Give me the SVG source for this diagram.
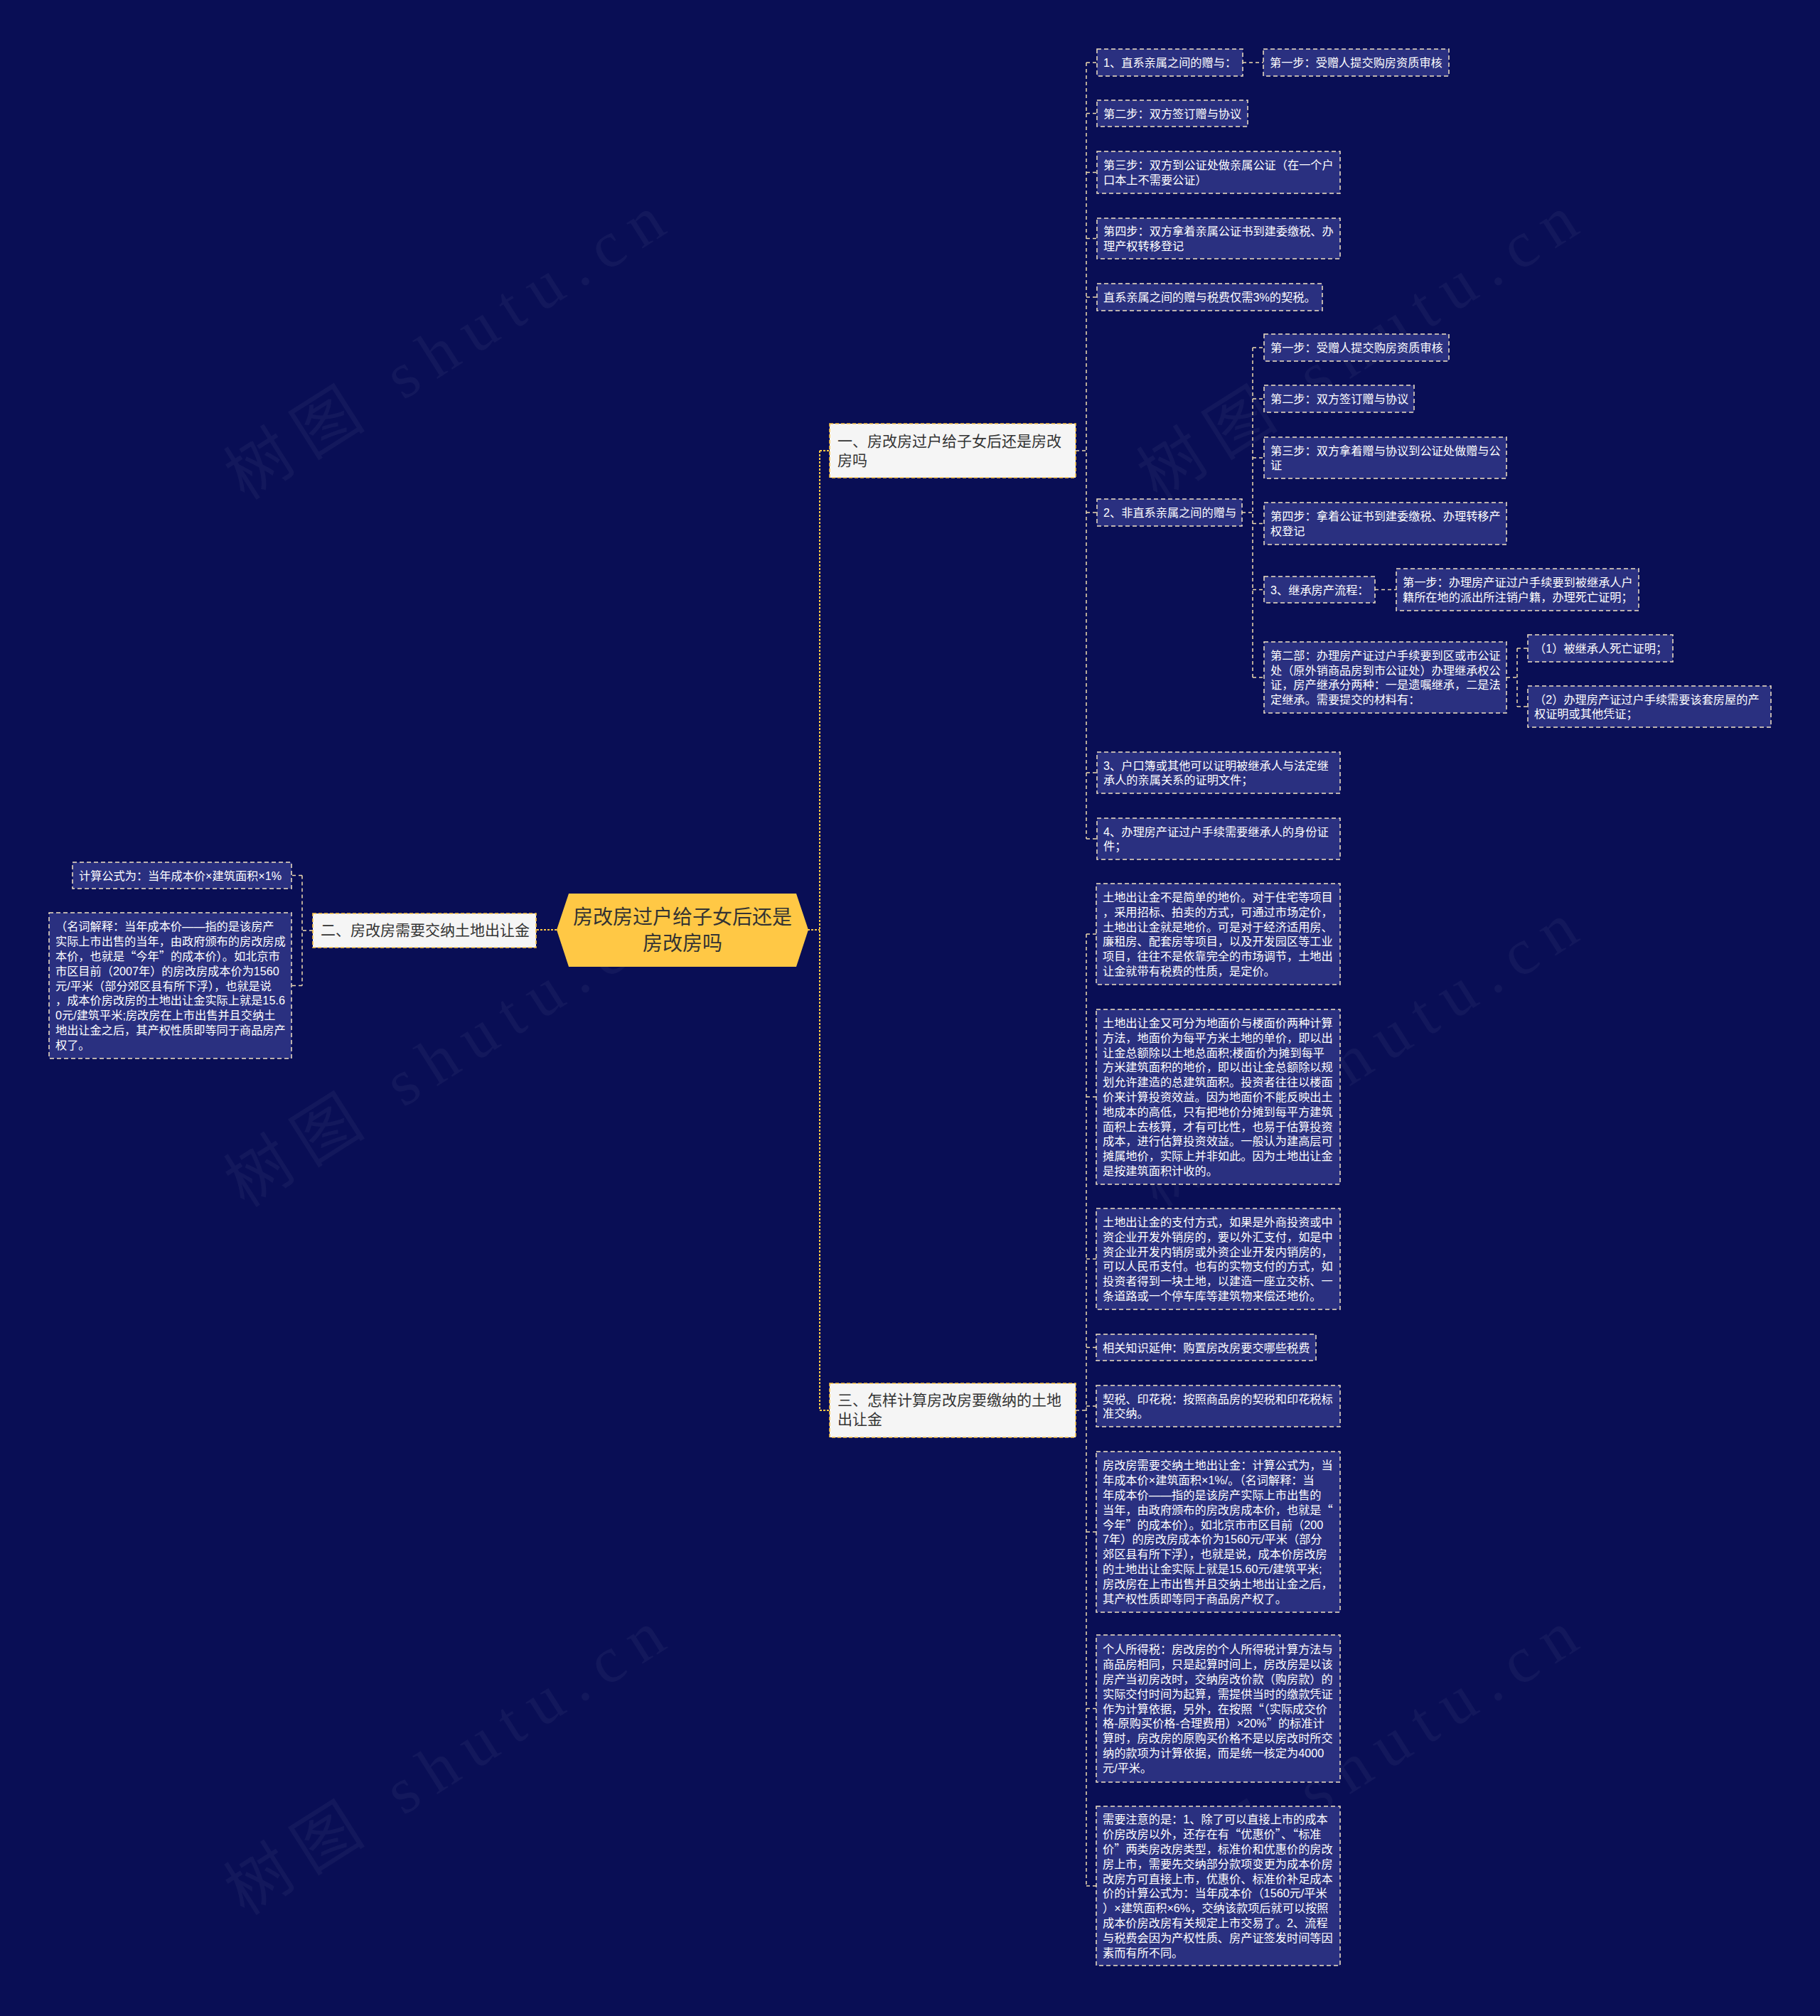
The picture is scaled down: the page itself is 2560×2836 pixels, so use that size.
<svg xmlns="http://www.w3.org/2000/svg" width="2560" height="2836" viewBox="0 0 2560 2836">
<style>
.bg{fill:#090e55}
.wm{font-family:"Liberation Serif","Noto Sans CJK SC",serif;font-size:92px;fill:#ffffff;fill-opacity:0.045}
.main{fill:#ffc845}
.mt{font-family:"Liberation Sans","Noto Sans CJK SC",sans-serif;font-size:28px;fill:#333333;text-anchor:middle}
.br{fill:#f5f5f5;stroke:#ffc845;stroke-width:1.6;stroke-dasharray:5,3}
.bt{font-family:"Liberation Sans","Noto Sans CJK SC",sans-serif;font-size:21px;fill:#333333}
.lf{fill:#2a3080;stroke:#f2e2c2;stroke-width:1.5;stroke-dasharray:6,4}
.lt{font-family:"Liberation Sans","Noto Sans CJK SC",sans-serif;font-size:16.2px;fill:#ffffff}
.q{font-family:"Noto Sans CJK SC",sans-serif}
.c1{fill:none;stroke:#ffc845;stroke-width:2;stroke-dasharray:3,2}
.c2{fill:none;stroke:#f0dcae;stroke-width:1.5;stroke-dasharray:5,4}
</style>
<rect class="bg" x="0" y="0" width="2560" height="2836"/>
<g id="watermarks">
<text class="wm" transform="translate(344,705) rotate(-32.4)" textLength="707">树图 shutu.cn</text>
<text class="wm" transform="translate(1628,705) rotate(-32.4)" textLength="707">树图 shutu.cn</text>
<text class="wm" transform="translate(344,1700) rotate(-32.4)" textLength="707">树图 shutu.cn</text>
<text class="wm" transform="translate(1628,1700) rotate(-32.4)" textLength="707">树图 shutu.cn</text>
<text class="wm" transform="translate(344,2696) rotate(-32.4)" textLength="707">树图 shutu.cn</text>
<text class="wm" transform="translate(1628,2696) rotate(-32.4)" textLength="707">树图 shutu.cn</text>
</g>
<g id="connectors">
<path class="c1" d="M1136 1308H1153M1153 634V1984M1153 634H1167M1153 1984H1167M783 1308H754"/>
<path class="c2" d="M1513 634H1528M1528 88V1180M1528 88H1543M1528 159.5H1543M1528 242.5H1543M1528 335.5H1543M1528 418H1543M1528 721H1543M1528 1087H1543M1528 1180H1543"/>
<path class="c2" d="M1748 88H1777"/>
<path class="c2" d="M1747 721H1762M1762 489V953M1762 489H1778M1762 561H1778M1762 644H1778M1762 736.5H1778M1762 829.5H1778M1762 953H1778"/>
<path class="c2" d="M1934 829.5H1964"/>
<path class="c2" d="M2119 953H2134M2134 912V994M2134 912H2149M2134 994H2149"/>
<path class="c2" d="M1513 1984H1528M1528 1314V2653M1528 1314H1542M1528 1543H1542M1528 1771H1542M1528 1895.5H1542M1528 1978H1542M1528 2155H1542M1528 2403.5H1542M1528 2653H1542"/>
<path class="c2" d="M440 1309H425M425 1231.5V1386.5M425 1231.5H410M425 1386.5H410"/>
</g>
<g id="root">
<path class="main" d="M783 1308L800 1257H1120L1137 1308L1120 1360H800Z"/>
<text class="mt" x="960" y="1300">房改房过户给子女后还是</text>
<text class="mt" x="960" y="1337">房改房吗</text>
</g>
<g id="b1">
<rect class="br" x="1167" y="596" width="346" height="76"/>
<text class="bt" x="1178" y="628">一、房改房过户给子女后还是房改</text>
<text class="bt" x="1178" y="655">房吗</text>
</g>
<g id="b2">
<rect class="br" x="440" y="1285" width="314" height="48"/>
<text class="bt" x="451" y="1316">二、房改房需要交纳土地出让金</text>
</g>
<g id="b3">
<rect class="br" x="1167" y="1946" width="346" height="76"/>
<text class="bt" x="1178" y="1977">三、怎样计算房改房要缴纳的土地</text>
<text class="bt" x="1178" y="2004">出让金</text>
</g>
<g id="a">
<rect class="lf" x="1543" y="69" width="205" height="38"/>
<text class="lt" x="1552" y="94">1、直系亲属之间的赠与：</text>
</g>
<g id="a1">
<rect class="lf" x="1777" y="69" width="261" height="38"/>
<text class="lt" x="1786" y="94">第一步：受赠人提交购房资质审核</text>
</g>
<g id="b">
<rect class="lf" x="1543" y="141" width="212" height="37"/>
<text class="lt" x="1552" y="165.5">第二步：双方签订赠与协议</text>
</g>
<g id="c">
<rect class="lf" x="1543" y="213" width="342" height="59"/>
<text class="lt" x="1552" y="238.1">第三步：双方到公证处做亲属公证（在一个户<tspan x="1552" dy="20.8">口本上不需要公证）</tspan></text>
</g>
<g id="d">
<rect class="lf" x="1543" y="307" width="342" height="57"/>
<text class="lt" x="1552" y="331.1">第四步：双方拿着亲属公证书到建委缴税、办<tspan x="1552" dy="20.8">理产权转移登记</tspan></text>
</g>
<g id="e">
<rect class="lf" x="1543" y="399" width="317" height="38"/>
<text class="lt" x="1552" y="424">直系亲属之间的赠与税费仅需3%的契税。</text>
</g>
<g id="f">
<rect class="lf" x="1543" y="702" width="204" height="38"/>
<text class="lt" x="1552" y="727">2、非直系亲属之间的赠与</text>
</g>
<g id="g1">
<rect class="lf" x="1778" y="470" width="260" height="38"/>
<text class="lt" x="1787" y="495">第一步：受赠人提交购房资质审核</text>
</g>
<g id="g2">
<rect class="lf" x="1778" y="542" width="211" height="38"/>
<text class="lt" x="1787" y="567">第二步：双方签订赠与协议</text>
</g>
<g id="g3">
<rect class="lf" x="1778" y="615" width="341" height="58"/>
<text class="lt" x="1787" y="639.6">第三步：双方拿着赠与协议到公证处做赠与公<tspan x="1787" dy="20.8">证</tspan></text>
</g>
<g id="g4">
<rect class="lf" x="1778" y="707" width="341" height="59"/>
<text class="lt" x="1787" y="732.1">第四步：拿着公证书到建委缴税、办理转移产<tspan x="1787" dy="20.8">权登记</tspan></text>
</g>
<g id="g5">
<rect class="lf" x="1778" y="811" width="156" height="37"/>
<text class="lt" x="1787" y="835.5">3、继承房产流程：</text>
</g>
<g id="g5c">
<rect class="lf" x="1964" y="800" width="341" height="59"/>
<text class="lt" x="1973" y="825.1">第一步：办理房产证过户手续要到被继承人户<tspan x="1973" dy="20.8">籍所在地的派出所注销户籍，办理死亡证明；</tspan></text>
</g>
<g id="g6">
<rect class="lf" x="1778" y="903" width="341" height="100"/>
<text class="lt" x="1787" y="927.8">第二部：办理房产证过户手续要到区或市公证<tspan x="1787" dy="20.8">处（原外销商品房到市公证处）办理继承权公</tspan><tspan x="1787" dy="20.8">证，房产继承分两种：一是遗嘱继承，二是法</tspan><tspan x="1787" dy="20.8">定继承。需要提交的材料有：</tspan></text>
</g>
<g id="h1">
<rect class="lf" x="2149" y="893" width="204" height="38"/>
<text class="lt" x="2158" y="918">（1）被继承人死亡证明；</text>
</g>
<g id="h2">
<rect class="lf" x="2149" y="965" width="342" height="58"/>
<text class="lt" x="2158" y="989.6">（2）办理房产证过户手续需要该套房屋的产<tspan x="2158" dy="20.8">权证明或其他凭证；</tspan></text>
</g>
<g id="i">
<rect class="lf" x="1543" y="1058" width="342" height="58"/>
<text class="lt" x="1552" y="1082.6">3、户口簿或其他可以证明被继承人与法定继<tspan x="1552" dy="20.8">承人的亲属关系的证明文件；</tspan></text>
</g>
<g id="j">
<rect class="lf" x="1543" y="1151" width="342" height="58"/>
<text class="lt" x="1552" y="1175.6">4、办理房产证过户手续需要继承人的身份证<tspan x="1552" dy="20.8">件；</tspan></text>
</g>
<g id="k1">
<rect class="lf" x="1542" y="1243" width="343" height="142"/>
<text class="lt" x="1551" y="1268">土地出让金不是简单的地价。对于住宅等项目<tspan x="1551" dy="20.8">，采用招标、拍卖的方式，可通过市场定价，</tspan><tspan x="1551" dy="20.8">土地出让金就是地价。可是对于经济适用房、</tspan><tspan x="1551" dy="20.8">廉租房、配套房等项目，以及开发园区等工业</tspan><tspan x="1551" dy="20.8">项目，往往不是依靠完全的市场调节，土地出</tspan><tspan x="1551" dy="20.8">让金就带有税费的性质，是定价。</tspan></text>
</g>
<g id="k2">
<rect class="lf" x="1542" y="1420" width="343" height="246"/>
<text class="lt" x="1551" y="1445">土地出让金又可分为地面价与楼面价两种计算<tspan x="1551" dy="20.8">方法，地面价为每平方米土地的单价，即以出</tspan><tspan x="1551" dy="20.8">让金总额除以土地总面积;楼面价为摊到每平</tspan><tspan x="1551" dy="20.8">方米建筑面积的地价，即以出让金总额除以规</tspan><tspan x="1551" dy="20.8">划允许建造的总建筑面积。投资者往往以楼面</tspan><tspan x="1551" dy="20.8">价来计算投资效益。因为地面价不能反映出土</tspan><tspan x="1551" dy="20.8">地成本的高低，只有把地价分摊到每平方建筑</tspan><tspan x="1551" dy="20.8">面积上去核算，才有可比性，也易于估算投资</tspan><tspan x="1551" dy="20.8">成本，进行估算投资效益。一般认为建高层可</tspan><tspan x="1551" dy="20.8">摊属地价，实际上并非如此。因为土地出让金</tspan><tspan x="1551" dy="20.8">是按建筑面积计收的。</tspan></text>
</g>
<g id="k3">
<rect class="lf" x="1542" y="1700" width="343" height="142"/>
<text class="lt" x="1551" y="1725">土地出让金的支付方式，如果是外商投资或中<tspan x="1551" dy="20.8">资企业开发外销房的，要以外汇支付，如是中</tspan><tspan x="1551" dy="20.8">资企业开发内销房或外资企业开发内销房的，</tspan><tspan x="1551" dy="20.8">可以人民币支付。也有的实物支付的方式，如</tspan><tspan x="1551" dy="20.8">投资者得到一块土地，以建造一座立交桥、一</tspan><tspan x="1551" dy="20.8">条道路或一个停车库等建筑物来偿还地价。</tspan></text>
</g>
<g id="k4">
<rect class="lf" x="1542" y="1877" width="309" height="37"/>
<text class="lt" x="1551" y="1901.5">相关知识延伸：购置房改房要交哪些税费</text>
</g>
<g id="k5">
<rect class="lf" x="1542" y="1949" width="343" height="58"/>
<text class="lt" x="1551" y="1973.6">契税、印花税：按照商品房的契税和印花税标<tspan x="1551" dy="20.8">准交纳。</tspan></text>
</g>
<g id="k6">
<rect class="lf" x="1542" y="2042" width="343" height="226"/>
<text class="lt" x="1551" y="2067.4">房改房需要交纳土地出让金：计算公式为，当<tspan x="1551" dy="20.8">年成本价×建筑面积×1%/。（名词解释：当</tspan><tspan x="1551" dy="20.8">年成本价——指的是该房产实际上市出售的</tspan><tspan x="1551" dy="20.8">当年，由政府颁布的房改房成本价，也就是<tspan class="q">“</tspan></tspan><tspan x="1551" dy="20.8">今年<tspan class="q">”</tspan>的成本价）。如北京市市区目前（200</tspan><tspan x="1551" dy="20.8">7年）的房改房成本价为1560元/平米（部分</tspan><tspan x="1551" dy="20.8">郊区县有所下浮），也就是说，成本价房改房</tspan><tspan x="1551" dy="20.8">的土地出让金实际上就是15.60元/建筑平米;</tspan><tspan x="1551" dy="20.8">房改房在上市出售并且交纳土地出让金之后，</tspan><tspan x="1551" dy="20.8">其产权性质即等同于商品房产权了。</tspan></text>
</g>
<g id="k7">
<rect class="lf" x="1542" y="2300" width="343" height="207"/>
<text class="lt" x="1551" y="2326.3">个人所得税：房改房的个人所得税计算方法与<tspan x="1551" dy="20.8">商品房相同，只是起算时间上，房改房是以该</tspan><tspan x="1551" dy="20.8">房产当初房改时，交纳房改价款（购房款）的</tspan><tspan x="1551" dy="20.8">实际交付时间为起算，需提供当时的缴款凭证</tspan><tspan x="1551" dy="20.8">作为计算依据，另外，在按照<tspan class="q">“</tspan>（实际成交价</tspan><tspan x="1551" dy="20.8">格-原购买价格-合理费用）×20%<tspan class="q">”</tspan>的标准计</tspan><tspan x="1551" dy="20.8">算时，房改房的原购买价格不是以房改时所交</tspan><tspan x="1551" dy="20.8">纳的款项为计算依据，而是统一核定为4000</tspan><tspan x="1551" dy="20.8">元/平米。</tspan></text>
</g>
<g id="k8">
<rect class="lf" x="1542" y="2541" width="343" height="224"/>
<text class="lt" x="1551" y="2565.4">需要注意的是：1、除了可以直接上市的成本<tspan x="1551" dy="20.8">价房改房以外，还存在有<tspan class="q">“</tspan>优惠价<tspan class="q">”</tspan>、<tspan class="q">“</tspan>标准</tspan><tspan x="1551" dy="20.8">价<tspan class="q">”</tspan>两类房改房类型，标准价和优惠价的房改</tspan><tspan x="1551" dy="20.8">房上市，需要先交纳部分款项变更为成本价房</tspan><tspan x="1551" dy="20.8">改房方可直接上市，优惠价、标准价补足成本</tspan><tspan x="1551" dy="20.8">价的计算公式为：当年成本价（1560元/平米</tspan><tspan x="1551" dy="20.8">）×建筑面积×6%，交纳该款项后就可以按照</tspan><tspan x="1551" dy="20.8">成本价房改房有关规定上市交易了。2、流程</tspan><tspan x="1551" dy="20.8">与税费会因为产权性质、房产证签发时间等因</tspan><tspan x="1551" dy="20.8">素而有所不同。</tspan></text>
</g>
<g id="l1">
<rect class="lf" x="102" y="1213" width="308" height="37"/>
<text class="lt" x="111" y="1237.5">计算公式为：当年成本价×建筑面积×1%</text>
</g>
<g id="l2">
<rect class="lf" x="69" y="1284" width="341" height="205"/>
<text class="lt" x="78" y="1309.3">（名词解释：当年成本价——指的是该房产<tspan x="78" dy="20.8">实际上市出售的当年，由政府颁布的房改房成</tspan><tspan x="78" dy="20.8">本价，也就是<tspan class="q">“</tspan>今年<tspan class="q">”</tspan>的成本价）。如北京市</tspan><tspan x="78" dy="20.8">市区目前（2007年）的房改房成本价为1560</tspan><tspan x="78" dy="20.8">元/平米（部分郊区县有所下浮），也就是说</tspan><tspan x="78" dy="20.8">，成本价房改房的土地出让金实际上就是15.6</tspan><tspan x="78" dy="20.8">0元/建筑平米;房改房在上市出售并且交纳土</tspan><tspan x="78" dy="20.8">地出让金之后，其产权性质即等同于商品房产</tspan><tspan x="78" dy="20.8">权了。</tspan></text>
</g>
</svg>
